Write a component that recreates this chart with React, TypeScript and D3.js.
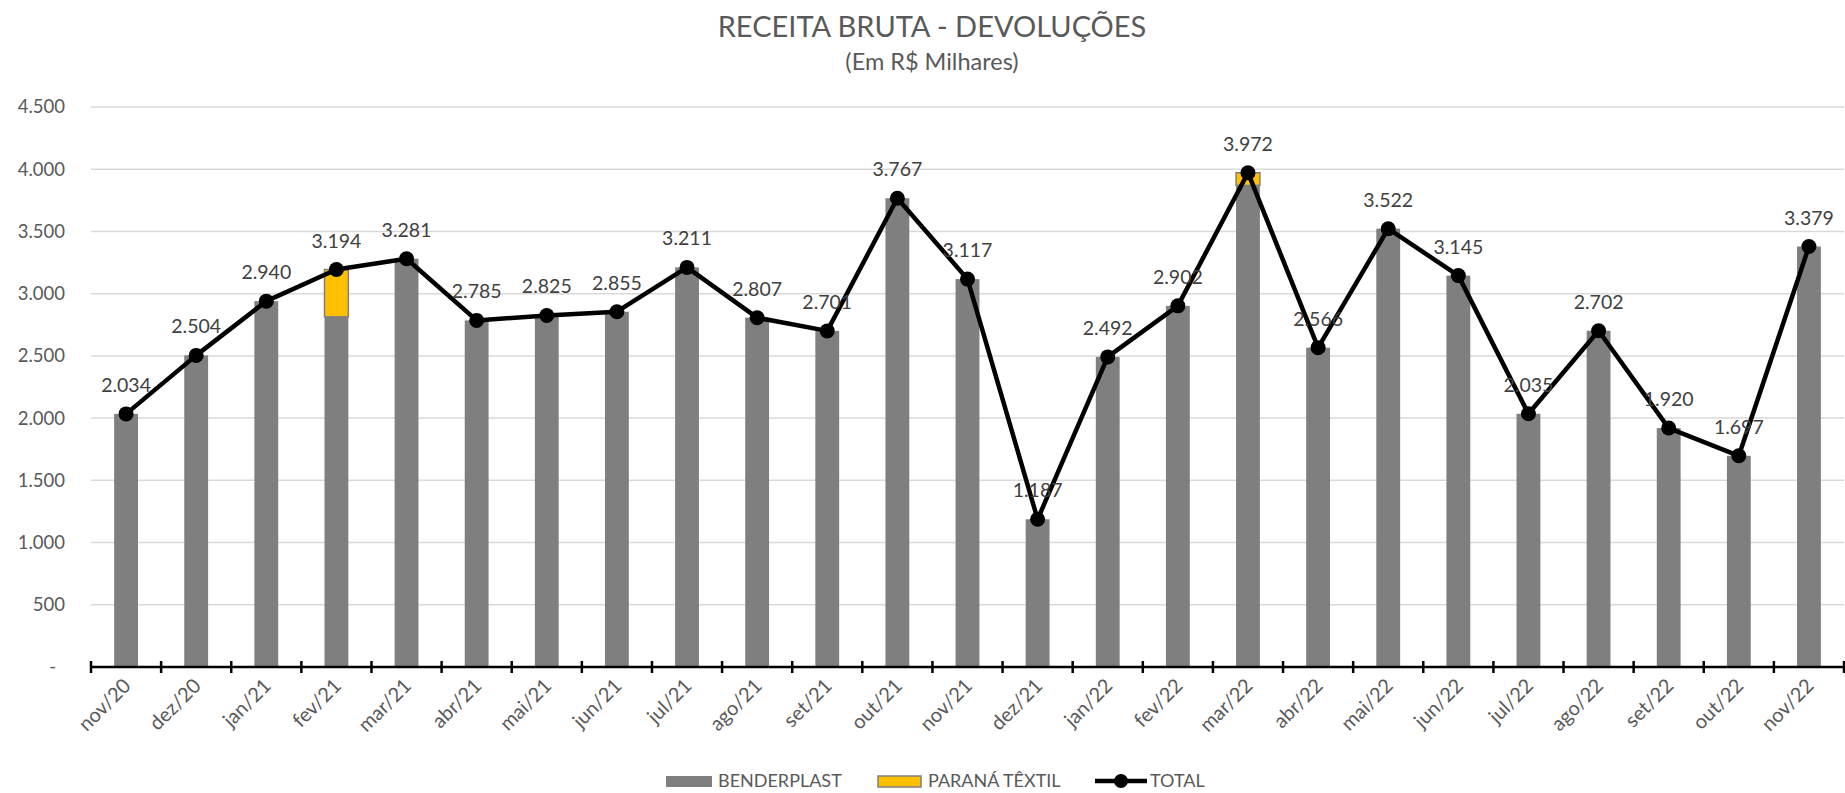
import React from 'react';
import * as d3 from 'd3';

const months = ['nov/20', 'dez/20', 'jan/21', 'fev/21', 'mar/21', 'abr/21', 'mai/21', 'jun/21', 'jul/21', 'ago/21', 'set/21', 'out/21', 'nov/21', 'dez/21', 'jan/22', 'fev/22', 'mar/22', 'abr/22', 'mai/22', 'jun/22', 'jul/22', 'ago/22', 'set/22', 'out/22', 'nov/22'];
const benderplast = [2034, 2504, 2940, 2814, 3281, 2785, 2825, 2855, 3211, 2807, 2701, 3767, 3117, 1187, 2492, 2902, 3870, 2566, 3522, 3145, 2035, 2702, 1920, 1697, 3379];
const paranaTextil = [0, 0, 0, 380, 0, 0, 0, 0, 0, 0, 0, 0, 0, 0, 0, 0, 102, 0, 0, 0, 0, 0, 0, 0, 0];
const total = [2034, 2504, 2940, 3194, 3281, 2785, 2825, 2855, 3211, 2807, 2701, 3767, 3117, 1187, 2492, 2902, 3972, 2566, 3522, 3145, 2035, 2702, 1920, 1697, 3379];
const yTicks = [0, 500, 1000, 1500, 2000, 2500, 3000, 3500, 4000, 4500];

const W = 1845;
const H = 793;
const FONT = 'Lato, "Open Sans", sans-serif';
const TXT = '#595959';

const fmt = (v: number) => (v === 0 ? '-' : d3.format(',')(v).replace(/,/g, '.'));

export default function App() {
  const x = d3.scaleBand<string>().domain(months).range([91, 1844]).padding(0);
  const y = d3.scaleLinear().domain([0, 4500]).range([667, 107]);
  const bw = x.bandwidth() * 0.34;
  const cx = (m: string) => (x(m) as number) + x.bandwidth() / 2;

  const line = d3
    .line<number>()
    .x((_, i) => cx(months[i]))
    .y((d) => y(d));

  const tickXs = months.map((m) => x(m) as number).concat([1844]);

  return (
    <svg width={W} height={H} style={{ position: 'absolute', left: 0, top: 0, background: '#fff' }} fontFamily={FONT}>
      <text x={932} y={37} textAnchor="middle" fontSize={29} fill={TXT}>RECEITA BRUTA - DEVOLUÇÕES</text>
      <text x={932} y={70} textAnchor="middle" fontSize={23.5} fill={TXT}>(Em R$ Milhares)</text>

      {yTicks.filter((t) => t > 0).map((t) => (
        <line key={t} x1={91} x2={1844} y1={y(t)} y2={y(t)} stroke="#d9d9d9" strokeWidth={1.5} />
      ))}
      {yTicks.map((t) => (
        <text key={'l' + t} x={t === 0 ? 56 : 65} y={y(t)} dy="0.35em" textAnchor="end" fontSize={18.5} fill={TXT}>
          {fmt(t)}
        </text>
      ))}

      {months.map((m, i) => (
        <g key={m}>
          <rect x={cx(m) - bw / 2} y={y(benderplast[i])} width={bw} height={y(0) - y(benderplast[i])} fill="#7f7f7f" />
          {paranaTextil[i] > 0 && (
            <rect
              x={cx(m) - bw / 2}
              y={y(benderplast[i] + paranaTextil[i])}
              width={bw}
              height={y(benderplast[i]) - y(benderplast[i] + paranaTextil[i])}
              fill="#ffc000"
              stroke="#7f7f7f"
              strokeWidth={1.5}
            />
          )}
        </g>
      ))}

      <line x1={91} x2={1844} y1={y(0)} y2={y(0)} stroke="#000" strokeWidth={2.5} />
      {tickXs.map((tx, i) => (
        <line key={i} x1={tx} x2={tx} y1={y(0) - 6} y2={y(0) + 6} stroke="#000" strokeWidth={2.5} />
      ))}
      {months.map((m) => (
        <text key={'x' + m} transform={`translate(${cx(m) + 6},${687}) rotate(-45)`} textAnchor="end" fontSize={20} fill={TXT}>
          {m}
        </text>
      ))}

      <path d={line(total) || ''} fill="none" stroke="#000" strokeWidth={4.5} strokeLinejoin="round" />
      {total.map((v, i) => (
        <circle key={'c' + i} cx={cx(months[i])} cy={y(v)} r={7.5} fill="#000" />
      ))}
      {total.map((v, i) => (
        <text key={'t' + i} x={cx(months[i])} y={y(v) - 22} textAnchor="middle" fontSize={19.5} fill="#404040">
          {fmt(v)}
        </text>
      ))}

      <g fontSize={18} fill={TXT}>
        <rect x={666} y={776} width={46} height={11} fill="#7f7f7f" />
        <text x={718} y={781} dy="0.35em">BENDERPLAST</text>
        <rect x={878} y={776} width={43} height={11} fill="#ffc000" stroke="#7f7f7f" strokeWidth={1.5} />
        <text x={928} y={781} dy="0.35em">PARANÁ TÊXTIL</text>
        <line x1={1095} x2={1147} y1={781} y2={781} stroke="#000" strokeWidth={4.5} />
        <circle cx={1121} cy={781} r={7} fill="#000" />
        <text x={1150} y={781} dy="0.35em">TOTAL</text>
      </g>
    </svg>
  );
}
